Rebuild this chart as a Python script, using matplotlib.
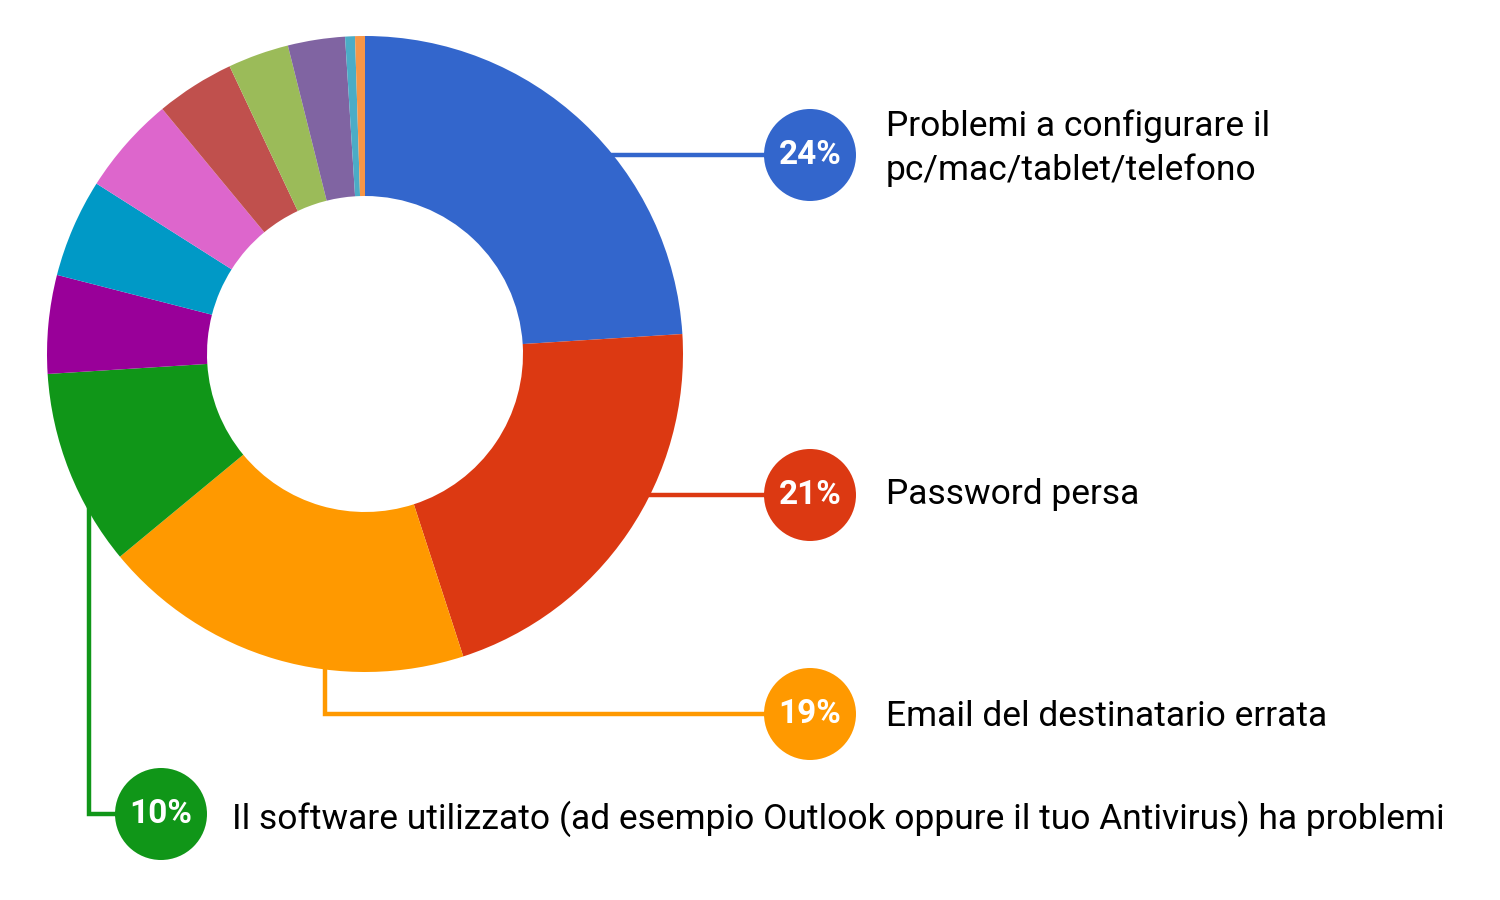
import matplotlib.pyplot as plt

plt.rcParams["font.family"] = ["Roboto", "DejaVu Sans"]

# slice shares (%), clockwise from 12 o'clock
shares = [24, 21, 19, 10, 5, 5, 5, 4, 3.1, 2.9, 0.5, 0.5]
colors = ["#3366CC", "#DC3912", "#FF9900", "#109618", "#990099", "#0099C6",
          "#DD66CC", "#C0504D", "#9BBB59", "#8064A2", "#4BACC6", "#F79646"]

# callouts for the four biggest slices
callout_pct = ["24%", "21%", "19%", "10%"]
callout_text = [
    ["Problemi a configurare il", "pc/mac/tablet/telefono"],
    ["Password persa"],
    ["Email del destinatario errata"],
    ["Il software utilizzato (ad esempio Outlook oppure il tuo Antivirus) ha problemi"],
]

W, H = 1500, 900
fig = plt.figure(figsize=(15, 9), dpi=100)
ax = fig.add_axes([0, 0, 1, 1])

cx, cy, r_out, r_in = 365, H - 354, 318, 158
ax.pie(shares, colors=colors, startangle=90, counterclock=False,
       center=(cx, cy), radius=r_out,
       wedgeprops=dict(width=r_out - r_in, linewidth=0), frame=False)
for w in ax.patches:
    w.set_zorder(3)

# connector paths (pixel coords, y down) and bubble centres
paths = [
    [(600, 155), (764, 155)],
    [(640, 495), (764, 495)],
    [(325, 660), (325, 714), (764, 714)],
    [(89, 500), (89, 814), (115, 814)],
]
bubbles = [(810, 155), (810, 495), (810, 714), (161, 814)]
text_x = [886, 886, 886, 232]
baselines = [[136, 180], [504], [726], [829]]

for i in range(4):
    xs = [p[0] for p in paths[i]]
    ys = [H - p[1] for p in paths[i]]
    ax.plot(xs, ys, color=colors[i], lw=3.2, zorder=1, solid_joinstyle="miter")
    bx, by = bubbles[i]
    ax.add_patch(plt.Circle((bx, H - by), 46, color=colors[i], zorder=4, lw=0))
    ax.text(bx, H - by, callout_pct[i], color="white", fontsize=24,
            fontweight="bold", ha="center", va="center", zorder=5)
    for line, yb in zip(callout_text[i], baselines[i]):
        ax.text(text_x[i], H - yb, line, color="black", fontsize=25.5,
                ha="left", va="baseline", zorder=5)

ax.set_xlim(0, W)
ax.set_ylim(0, H)
ax.set_aspect("equal")
ax.axis("off")

fig.savefig("out.png", dpi=100, facecolor="white")
